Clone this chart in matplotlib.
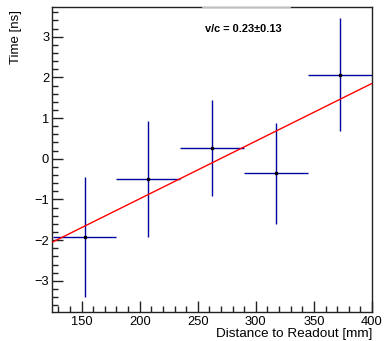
import matplotlib
matplotlib.use("Agg")
import matplotlib.pyplot as plt
from matplotlib.ticker import MultipleLocator
import numpy as np

plt.rcParams['font.family'] = ['Liberation Sans', 'DejaVu Sans']

# data
distance = [152.5, 207.5, 262.5, 317.5, 372.5]
distance_err = [27.5, 27.5, 27.5, 27.5, 27.5]
time_ns = [-1.93, -0.50, 0.26, -0.36, 2.06]
time_err = [1.47, 1.43, 1.18, 1.25, 1.39]
fit_slope = 0.01418     # ns/mm
fit_intercept = -3.82   # ns
fit_range = [125, 400]
label_text = "v/c = 0.23\u00b10.13"

fig = plt.figure(figsize=(3.84, 3.41), dpi=100)
ax = fig.add_axes([52/384, 1 - 311.7/341, 320/384, (311.7 - 7)/341])

ax.errorbar(distance, time_ns, xerr=distance_err, yerr=time_err, fmt='none',
            ecolor='#0000a0', elinewidth=1.0, capsize=0, zorder=2)
ax.plot(distance, time_ns, 's', color='black', markersize=1.4, zorder=3)

xf = np.array(fit_range, dtype=float)
ax.plot(xf, fit_intercept + fit_slope * xf, color='#ff0000', lw=1.0, zorder=4)

ax.set_xlim(124.5, 400)
ax.set_ylim(-3.76, 3.73)

ax.xaxis.set_major_locator(MultipleLocator(50))
ax.xaxis.set_minor_locator(MultipleLocator(10))
ax.yaxis.set_major_locator(MultipleLocator(1))
ax.yaxis.set_minor_locator(MultipleLocator(0.2))
ax.tick_params(which='both', direction='in', top=False, right=False, labelsize=9.3, width=1.0, color='#222222')
ax.tick_params(which='major', length=8, pad=2)
ax.tick_params(which='minor', length=4)
ax.tick_params(axis='x', which='major', pad=3)

for s in ax.spines.values():
    s.set_linewidth(1.0)
    s.set_color('#222222')

# light segment in top border (overlapping pave)
ax.plot([(202.7-52)/320, (290-52)/320], [1, 1], transform=ax.transAxes,
        color='#dddddd', lw=1.2, clip_on=False, zorder=5)

ax.set_xlabel("Distance to Readout [mm]", fontsize=9.7, loc='right')
ax.xaxis.set_label_coords(1.0, -0.055)
ax.xaxis.label.set_va('top')
ax.set_ylabel("Time [ns]", fontsize=9.5, loc='top')
ax.yaxis.set_label_coords(-0.095, 0.99)

ax.text((205-52)/320, 1 - (29-7)/304.7, label_text, transform=ax.transAxes,
        fontsize=7.9, fontweight='bold', ha='left', va='center')

fig.savefig("out.png", dpi=100)
